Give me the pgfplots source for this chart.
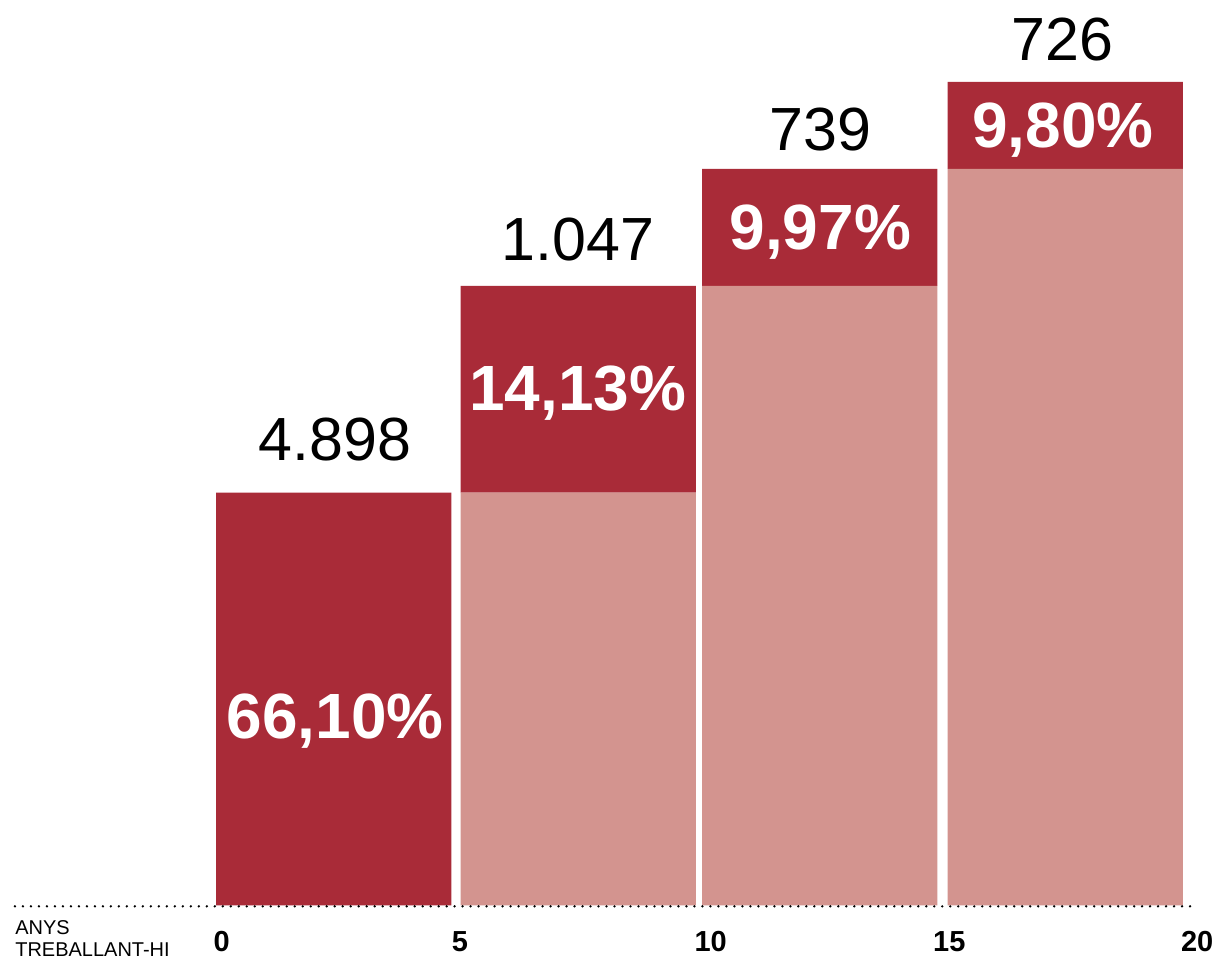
\documentclass[border=0pt]{standalone}
\usepackage{pgfplots}
\pgfplotsset{compat=1.18}
\usepackage{fontspec}
\setmainfont{Liberation Sans}
\definecolor{darkred}{RGB}{169,43,56}
\definecolor{lightred}{RGB}{211,148,143}
\begin{document}
\begin{tikzpicture}
\begin{axis}[
  scale only axis, width=610pt, height=481.5pt,
  xmin=-4.408, xmax=20.721, ymin=-57, ymax=906,
  axis lines=none, clip=false,
  ybar stacked, bar width=4.85,
]
\path (rel axis cs:0,0) rectangle (rel axis cs:1,1);
\addplot[fill=lightred, draw=none] coordinates {(2.47,0) (7.51,413) (12.49,620) (17.55,737)};
\addplot[fill=darkred, draw=none] coordinates {(2.47,413) (7.51,207) (12.49,117) (17.55,87)};
\end{axis}
\begin{axis}[
  scale only axis, width=610pt, height=481.5pt,
  xmin=-4.408, xmax=20.721, ymin=-57, ymax=906,
  axis lines=none, clip=false,
]
\addplot[black, line width=1.3pt, dash pattern=on 0pt off 4pt, line cap=round] coordinates {(-4.1,-1) (20.25,-1)};
\node[font=\fontsize{30.5}{36}\selectfont] at (axis cs:2.5,466) {4.898};
\node[font=\fontsize{30.5}{36}\selectfont] at (axis cs:7.5,666) {1.047};
\node[font=\fontsize{30.5}{36}\selectfont] at (axis cs:12.5,776) {739};
\node[font=\fontsize{30.5}{36}\selectfont] at (axis cs:17.5,866) {726};
\node[white, font=\fontsize{32}{36}\selectfont\bfseries] at (axis cs:2.5,184) {66,10\%};
\node[white, font=\fontsize{32}{36}\selectfont\bfseries] at (axis cs:7.5,513) {14,13\%};
\node[white, font=\fontsize{32}{36}\selectfont\bfseries] at (axis cs:12.5,674) {9,97\%};
\node[white, font=\fontsize{32}{36}\selectfont\bfseries] at (axis cs:17.5,776) {9,80\%};
\node[font=\fontsize{14.5}{17}\selectfont\bfseries] at (axis cs:0.16,-36) {0};
\node[font=\fontsize{14.5}{17}\selectfont\bfseries] at (axis cs:5.07,-36) {5};
\node[font=\fontsize{14.5}{17}\selectfont\bfseries] at (axis cs:10.24,-36) {10};
\node[font=\fontsize{14.5}{17}\selectfont\bfseries] at (axis cs:15.16,-36) {15};
\node[font=\fontsize{14.5}{17}\selectfont\bfseries] at (axis cs:20.27,-36) {20};
\node[font=\fontsize{10}{11}\selectfont, align=left, anchor=west, inner sep=0pt] at (axis cs:-4.1,-33) {ANYS\\TREBALLANT-HI};
\end{axis}
\end{tikzpicture}
\end{document}
